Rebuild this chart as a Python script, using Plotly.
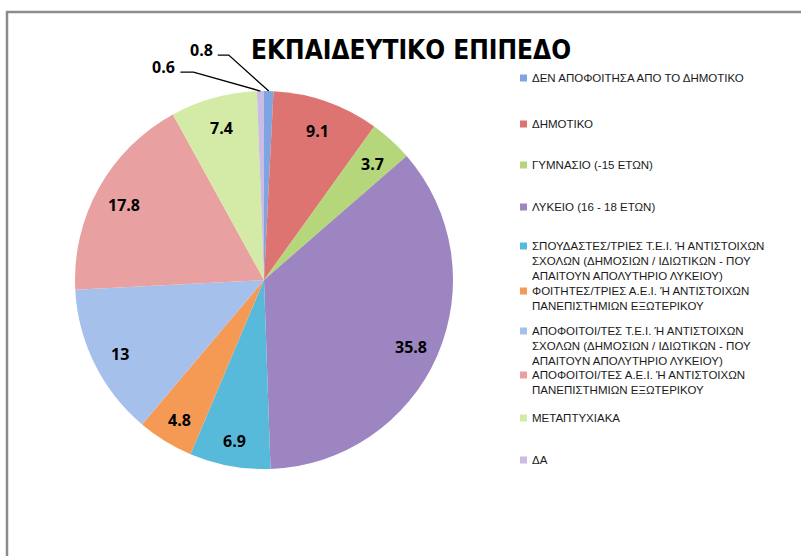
import math
import plotly.graph_objects as go

# ---- data ----
categories = [
    "ΔΕΝ ΑΠΟΦΟΙΤΗΣΑ ΑΠΟ ΤΟ ΔΗΜΟΤΙΚΟ",
    "ΔΗΜΟΤΙΚΟ",
    "ΓΥΜΝΑΣΙΟ (-15 ΕΤΩΝ)",
    "ΛΥΚΕΙΟ (16 - 18 ΕΤΩΝ)",
    "ΣΠΟΥΔΑΣΤΕΣ/ΤΡΙΕΣ Τ.Ε.Ι. Ή ΑΝΤΙΣΤΟΙΧΩΝ<br>ΣΧΟΛΩΝ (ΔΗΜΟΣΙΩΝ / ΙΔΙΩΤΙΚΩΝ - ΠΟΥ<br>ΑΠΑΙΤΟΥΝ ΑΠΟΛΥΤΗΡΙΟ ΛΥΚΕΙΟΥ)",
    "ΦΟΙΤΗΤΕΣ/ΤΡΙΕΣ Α.Ε.Ι. Ή ΑΝΤΙΣΤΟΙΧΩΝ<br>ΠΑΝΕΠΙΣΤΗΜΙΩΝ ΕΞΩΤΕΡΙΚΟΥ",
    "ΑΠΟΦΟΙΤΟΙ/ΤΕΣ Τ.Ε.Ι. Ή ΑΝΤΙΣΤΟΙΧΩΝ<br>ΣΧΟΛΩΝ (ΔΗΜΟΣΙΩΝ / ΙΔΙΩΤΙΚΩΝ - ΠΟΥ<br>ΑΠΑΙΤΟΥΝ ΑΠΟΛΥΤΗΡΙΟ ΛΥΚΕΙΟΥ)",
    "ΑΠΟΦΟΙΤΟΙ/ΤΕΣ Α.Ε.Ι. Ή ΑΝΤΙΣΤΟΙΧΩΝ<br>ΠΑΝΕΠΙΣΤΗΜΙΩΝ ΕΞΩΤΕΡΙΚΟΥ",
    "ΜΕΤΑΠΤΥΧΙΑΚΑ",
    "ΔΑ",
]
values = [0.8, 9.1, 3.7, 35.8, 6.9, 4.8, 13, 17.8, 7.4, 0.6]
value_labels = ["0.8", "9.1", "3.7", "35.8", "6.9", "4.8", "13", "17.8", "7.4", "0.6"]
colors = ["#7FA4E2", "#DD7471", "#B5D67A", "#9C85C0", "#58BADB",
          "#F49A55", "#A6C0EC", "#E8A0A0", "#D3EBA6", "#CBBCE4"]
title_text = "ΕΚΠΑΙΔΕΥΤΙΚΟ ΕΠΙΠΕΔΟ"

W, H = 801, 556
CX, CY, R = 264, 280, 189          # pie centre / radius in pixels
LABEL_R = 0.85                      # inside labels at this fraction of radius
LABEL_DY = 3
small = {0: (-40, -36, -11), 9: (-67, -19, -13)}   # callout layout offsets
LEG_X, LEG_SQ = 520, 7
LEG_YS = [78, 124, 165, 207, 246, 291, 331, 375, 418, 460]   # key row positions (px)
LEG_FONT = 11.5
LEG_LH = 1.3 * LEG_FONT

NUM_FONT = dict(family="Open Sans", size=16, color="black", weight="bold")

fig = go.Figure(go.Pie(
    labels=[c.replace("<br>", " ") for c in categories],
    values=values,
    textinfo="none",
    sort=False,
    direction="clockwise",
    rotation=0,
    marker=dict(colors=colors, line=dict(width=0)),
    domain=dict(x=[(CX - R) / W, (CX + R) / W], y=[(H - CY - R) / H, (H - CY + R) / H]),
    hoverinfo="label+value",
    showlegend=False,
))


def px2paper(x, y):
    return x / W, 1 - y / H


shapes = [dict(type="path", xref="paper", yref="paper",
               path="M %f,%f L %f,%f L %f,%f" % (*px2paper(7, H + 20), *px2paper(7, 12), *px2paper(W + 20, 12)),
               line=dict(color="#8C8C8C", width=2.5))]
annotations = []

# value labels
total = sum(values)
cum = 0
for i, v in enumerate(values):
    mid = (cum + v / 2) / total * 2 * math.pi
    cum += v
    if i in small:
        tx, ty = CX + R * math.sin(mid), CY - R * math.cos(mid)
        dx, dy, hx = small[i]
        ex, ey = tx + dx, ty + dy
        hx2 = ex + hx
        x0, y0 = px2paper(tx, ty)
        x1, y1 = px2paper(ex, ey)
        x2, y2 = px2paper(hx2, ey)
        shapes.append(dict(type="path", xref="paper", yref="paper",
                           path="M %f,%f L %f,%f L %f,%f" % (x0, y0, x1, y1, x2, y2),
                           line=dict(color="black", width=1.3)))
        lx, ly = px2paper(hx2 - 3, ey - 5)
        annotations.append(dict(x=lx, y=ly, xref="paper", yref="paper", text=value_labels[i],
                                showarrow=False, xanchor="right", yanchor="middle", font=NUM_FONT))
    else:
        lx, ly = px2paper(CX + LABEL_R * R * math.sin(mid),
                          CY - LABEL_R * R * math.cos(mid) + LABEL_DY)
        annotations.append(dict(x=lx, y=ly, xref="paper", yref="paper", text=value_labels[i],
                                showarrow=False, xanchor="center", yanchor="middle", font=NUM_FONT))

# legend (key) entries
for c, col, yc in zip(categories, colors, LEG_YS):
    sx0, sy0 = px2paper(LEG_X, yc - LEG_SQ / 2)
    sx1, sy1 = px2paper(LEG_X + LEG_SQ, yc + LEG_SQ / 2)
    shapes.append(dict(type="rect", xref="paper", yref="paper", x0=sx0, x1=sx1, y0=sy1, y1=sy0,
                       fillcolor=col, line=dict(width=0)))
    ax, ay = px2paper(LEG_X + LEG_SQ + 3, yc - LEG_LH / 2 - 1)
    annotations.append(dict(x=ax, y=ay, xref="paper", yref="paper", text=c, align="left",
                            showarrow=False, xanchor="left", yanchor="top",
                            font=dict(family="Liberation Sans", size=LEG_FONT, color="#1a1a1a")))

fig.update_layout(
    width=W, height=H,
    margin=dict(l=0, r=0, t=0, b=0),
    paper_bgcolor="white",
    title=dict(text="<b>" + title_text + "</b>", x=411 / W, xanchor="center", y=1 - 50 / H, yanchor="middle",
               font=dict(family="DejaVu Sans Condensed, Roboto", size=26, color="black")),
    showlegend=False,
    shapes=shapes,
    annotations=annotations,
)

fig.write_html("out.html", config={"displayModeBar": False},
               post_script="document.body.style.margin='0';")
